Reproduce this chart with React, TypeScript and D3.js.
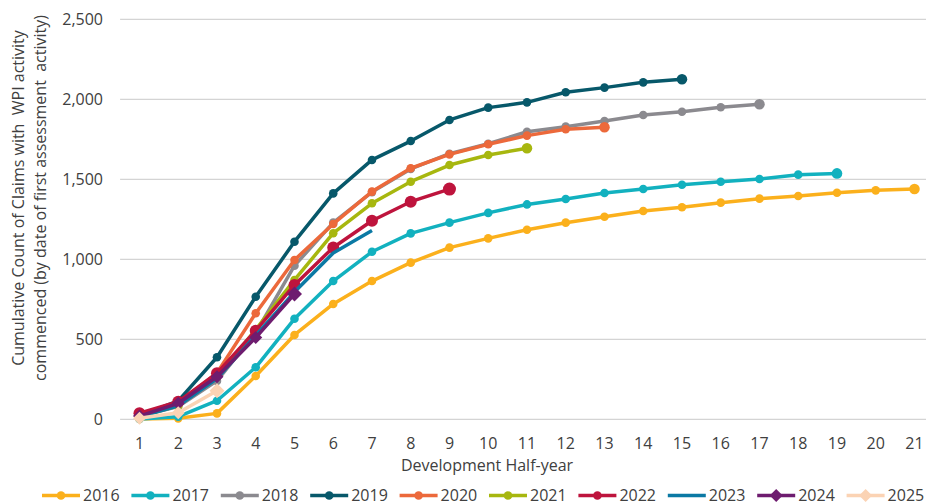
import React from "react";
import * as d3 from "d3";

// Development half-years on the category axis
const halfYears: number[] = d3.range(1, 22);

// Cumulative count of claims with WPI activity commenced, by cohort year
const y2016 = [2, 6, 37, 271, 527, 721, 864, 979, 1073, 1131, 1185, 1229, 1266, 1302, 1325, 1354, 1379, 1396, 1416, 1431, 1439];
const y2017 = [2, 16, 116, 325, 628, 864, 1047, 1162, 1229, 1290, 1343, 1377, 1414, 1439, 1466, 1485, 1502, 1529, 1537];
const y2018 = [20, 80, 240, 540, 960, 1229, 1420, 1565, 1660, 1722, 1797, 1829, 1864, 1902, 1922, 1950, 1969];
const y2019 = [22, 115, 388, 766, 1110, 1412, 1621, 1739, 1871, 1948, 1981, 2044, 2073, 2106, 2125];
const y2020 = [25, 100, 290, 663, 996, 1221, 1423, 1569, 1656, 1719, 1773, 1813, 1825];
const y2021 = [20, 85, 265, 560, 871, 1163, 1350, 1485, 1589, 1652, 1694];
const y2022 = [38, 110, 288, 554, 840, 1074, 1241, 1360, 1439];
const y2023 = [15, 85, 255, 525, 795, 1040, 1180];
const y2024 = [20, 100, 266, 511, 783];
const y2025 = [6, 41, 179];

const yTicks = [0, 500, 1000, 1500, 2000, 2500];

type Marker = "circle" | "bigcircle" | "diamond" | "none";
interface Series {
  name: string;
  values: number[];
  color: string;
  marker: Marker;
}

const series: Series[] = [
  { name: "2016", values: y2016, color: "#FBB01C", marker: "circle" },
  { name: "2017", values: y2017, color: "#12B1BF", marker: "circle" },
  { name: "2018", values: y2018, color: "#8B8A8F", marker: "circle" },
  { name: "2019", values: y2019, color: "#07586A", marker: "circle" },
  { name: "2020", values: y2020, color: "#EC693B", marker: "circle" },
  { name: "2021", values: y2021, color: "#A7B70F", marker: "circle" },
  { name: "2022", values: y2022, color: "#BE143D", marker: "bigcircle" },
  { name: "2023", values: y2023, color: "#0B79A4", marker: "none" },
  { name: "2024", values: y2024, color: "#6E1C6F", marker: "diamond" },
  { name: "2025", values: y2025, color: "#FBD3B4", marker: "diamond" },
];

const W = 926;
const H = 503;
const FONT = "'Open Sans', sans-serif";
const TEXT = "#404040";

const x = d3
  .scaleBand<number>()
  .domain(halfYears)
  .range([120.1, 120.1 + 21 * 38.75])
  .paddingInner(0)
  .paddingOuter(0);
const cx = (d: number) => (x(d) as number) + x.bandwidth() / 2;
const y = d3.scaleLinear().domain([0, 2500]).range([419.3, 19.3]);

const line = d3
  .line<number>()
  .x((_, i) => cx(halfYears[i]))
  .y((v) => y(v));

function MarkerShape({ kind, px, py, color, big }: { kind: Marker; px: number; py: number; color: string; big?: boolean }) {
  if (kind === "none") return null;
  if (kind === "diamond") {
    const s = big ? 7.5 : 6.5;
    return <path d={`M${px},${py - s}L${px + s},${py}L${px},${py + s}L${px - s},${py}Z`} fill={color} />;
  }
  const r = kind === "bigcircle" ? (big ? 6.5 : 6) : big ? 5.3 : 4.3;
  return <circle cx={px} cy={py} r={r} fill={color} />;
}

export default function App() {
  const legendStart = 42;
  const legendStep = 89.4;
  return (
    <div style={{ position: "fixed", left: 0, top: 0, width: W, height: H, background: "#fff" }}>
      <svg width={W} height={H} style={{ display: "block", fontFamily: FONT }}>
        {/* horizontal gridlines */}
        {yTicks.map((t) => (
          <line key={t} x1={120.1} x2={934} y1={y(t)} y2={y(t)} stroke="#D4D4D4" strokeWidth={1.3} />
        ))}
        {/* y tick labels */}
        {yTicks.map((t) => (
          <text key={t} x={103} y={y(t)} dy="0.35em" textAnchor="end" fontSize={16} fill={TEXT}>
            {d3.format(",")(t)}
          </text>
        ))}
        {/* x tick labels */}
        {halfYears.map((d) => (
          <text key={d} x={cx(d)} y={443.5} dy="0.35em" textAnchor="middle" fontSize={16} fill={TEXT}>
            {d}
          </text>
        ))}
        <text x={487} y={465} dy="0.35em" textAnchor="middle" fontSize={16} fill={TEXT}>
          Development Half-year
        </text>
        {/* y axis title */}
        <g transform="translate(18.5,198) rotate(-90)">
          <text x={0} y={0} dy="0.35em" textAnchor="middle" fontSize={16} fill={TEXT} style={{ whiteSpace: "pre" }}>
            {"Cumulative Count of Claims with  WPI activity"}
          </text>
          <text x={0} y={22} dy="0.35em" textAnchor="middle" fontSize={16} fill={TEXT} style={{ whiteSpace: "pre" }}>
            {"commenced (by date of first assessment  activity)"}
          </text>
        </g>
        {/* series */}
        {series.map((s) => (
          <g key={s.name}>
            <path d={line(s.values) || ""} fill="none" stroke={s.color} strokeWidth={3.5} strokeLinejoin="round" />
            {s.values.map((v, i) => (
              <MarkerShape
                key={i}
                kind={s.marker}
                px={cx(halfYears[i])}
                py={y(v)}
                color={s.color}
                big={i === s.values.length - 1}
              />
            ))}
          </g>
        ))}
        {/* legend */}
        {series.map((s, i) => {
          const lx = legendStart + i * legendStep;
          const ly = 495.5;
          return (
            <g key={s.name}>
              <line x1={lx} x2={lx + 38} y1={ly} y2={ly} stroke={s.color} strokeWidth={3.5} />
              <MarkerShape kind={s.marker === "bigcircle" ? "circle" : s.marker} px={lx + 19} py={ly} color={s.color} />
              <text x={lx + 41} y={ly} dy="0.35em" fontSize={16} fill={TEXT}>
                {s.name}
              </text>
            </g>
          );
        })}
      </svg>
    </div>
  );
}
